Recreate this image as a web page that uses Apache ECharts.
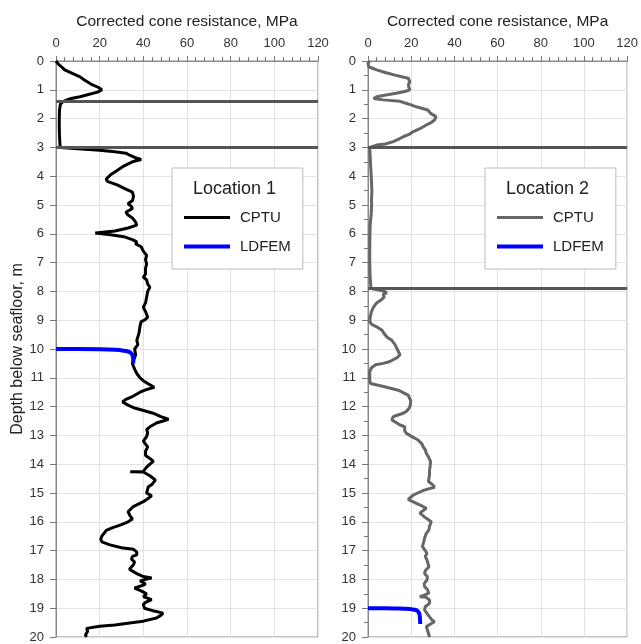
<!DOCTYPE html>
<html>
<head>
<meta charset="utf-8">
<script src="https://cdn.jsdelivr.net/npm/echarts@6/dist/echarts.min.js"></script>
<style>
  html, body { margin: 0; padding: 0; background: #fff; }
  #chart { width: 641px; height: 644px; }
</style>
</head>
<body>
<div id="chart"></div>
<script>
// x-axis ticks (MPa) and depth ticks (m)
const qtTicks = [0, 20, 40, 60, 80, 100, 120]
const depthTicks = [0, 20]

// Location 1 - CPTU profile
const loc1Depth = [0, 0.1, 0.2, 0.31, 0.45, 0.55, 0.66, 0.8, 0.92, 1.0, 1.08, 1.18, 1.24, 1.3, 1.35, 1.42, 1.5, 1.7, 2.0, 2.3, 2.6, 2.9, 3.0,
  3.05, 3.1, 3.15, 3.2, 3.28, 3.35, 3.42, 3.5, 3.65, 3.8, 3.95, 4.1, 4.18, 4.3, 4.45, 4.55, 4.7, 4.85, 4.95, 5.05, 5.12, 5.25, 5.35, 5.45, 5.6, 5.7, 5.8, 5.9, 5.97, 6.0,
  6.03, 6.1, 6.2, 6.28, 6.35, 6.45, 6.6, 6.75, 6.9, 7.05, 7.2, 7.4, 7.5, 7.6, 7.75, 7.85, 8.0, 8.2, 8.4, 8.55, 8.7, 8.9, 9.0, 9.05, 9.2, 9.45, 9.7, 9.85,
  10.0, 10.2, 10.5, 10.7, 10.85, 11.0, 11.1, 11.2, 11.33, 11.42, 11.5, 11.65, 11.75, 11.84, 11.95, 12.05, 12.23, 12.35, 12.44, 12.5, 12.57, 12.7, 12.8, 12.9,
  13.04, 13.2, 13.3, 13.4, 13.55, 13.7, 13.8, 13.9, 14.0, 14.1, 14.25, 14.26, 14.27, 14.4, 14.55, 14.6, 14.7, 14.78, 15.0, 15.1, 15.2, 15.3, 15.47, 15.65, 15.8, 15.9,
  16.0, 16.1, 16.2, 16.3, 16.4, 16.5, 16.6, 16.7, 16.8, 16.9, 16.95, 17.05, 17.15, 17.2, 17.3, 17.4, 17.5, 17.65, 17.8, 17.9, 17.95, 18.0, 18.05, 18.15, 18.2, 18.3,
  18.4, 18.5, 18.6, 18.7, 18.8, 18.87, 19.0, 19.1, 19.17, 19.25, 19.34, 19.45, 19.5, 19.58, 19.63, 19.7, 19.8, 19.86, 19.93, 20.0]
const loc1Qt = [0, 1, 2.5, 4, 8, 11, 13, 16, 19.5, 21, 19, 14, 11, 7, 5, 3, 2, 1.6, 1.5, 1.5, 1.6, 1.8, 2,
  10, 20, 27, 32, 34, 36, 39, 35, 31, 28, 25, 23, 23.5, 28, 32, 35, 35.5, 35, 33, 34.5, 35, 32, 33, 35, 36.5, 37, 33, 27, 18, 17.5,
  25, 31, 35, 37, 36.5, 39, 40, 41.5, 41, 41.5, 41, 41, 40, 41.5, 42, 43, 42, 41.5, 41, 40, 41, 42, 40.5, 39, 38.5, 38, 37, 37.5,
  36, 36.5, 35, 36, 37, 38.5, 40, 42, 45, 41, 38.5, 35, 32, 30.5, 33, 36, 44.5, 48, 51.5, 49, 46, 43, 41.5, 42,
  41.5, 40, 41, 42, 41, 41, 43, 44.6, 43, 41.5, 40, 34, 40, 43, 45.5, 46, 44, 42.3, 41.5, 43.8, 42, 40, 35.4, 33, 34, 35,
  33, 30, 26, 23, 22, 21, 20.5, 21, 24.7, 30, 35.4, 37, 37, 35, 34.6, 36, 35.4, 33.6, 37, 40, 43.8, 41, 38.5, 41, 40, 36,
  39, 41.5, 40, 43.8, 41, 40, 40.5, 45, 49, 48, 46, 40, 35.4, 27, 20, 14, 14.5, 14.8, 13.5, 14]

// Location 1 - LDFEM prediction
const loc1FemDepth = [10.0, 10.0, 10.01, 10.03, 10.06, 10.1, 10.18, 10.3, 10.5]
const loc1FemQt = [0, 10, 20, 27, 31, 33.5, 34.8, 35.3, 35.4]

// Location 2 - CPTU profile
const loc2Depth = [0, 0.08, 0.2, 0.31, 0.4, 0.49, 0.6, 0.72, 0.8, 0.89, 1.0, 1.06, 1.12, 1.2, 1.24, 1.3, 1.35, 1.4, 1.5, 1.59, 1.7, 1.82, 1.93, 2.05, 2.15, 2.22,
  2.35, 2.45, 2.55, 2.63, 2.72, 2.8, 2.88, 2.92, 3.0, 3.3, 3.6, 4.0, 4.5, 4.85, 4.9, 4.95, 5.3, 5.7, 6.0, 6.5, 7.0, 7.5, 7.9,
  7.95, 8.0, 8.05, 8.1, 8.2, 8.3, 8.4, 8.55, 8.7, 8.9, 9.05, 9.15, 9.25, 9.35, 9.5, 9.6, 9.7, 9.85, 10.0, 10.2, 10.3, 10.4, 10.45, 10.5, 10.55, 10.67, 10.8,
  10.96, 11.1, 11.2, 11.3, 11.43, 11.6, 11.8, 11.95, 12.06, 12.15, 12.23, 12.3, 12.35, 12.46, 12.55, 12.64, 12.7, 12.75, 12.85, 12.93, 13.05, 13.16, 13.3, 13.39,
  13.5, 13.62, 13.75, 13.91, 14.05, 14.2, 14.35, 14.5, 14.6, 14.72, 14.8, 14.9, 15.0, 15.07, 15.22, 15.36, 15.45, 15.53, 15.7, 15.88, 16.0, 16.15, 16.28, 16.4,
  16.57, 16.7, 16.86, 17.0, 17.1, 17.2, 17.33, 17.45, 17.56, 17.7, 17.8, 17.9, 18.02, 18.15, 18.25, 18.35, 18.48, 18.55, 18.6, 18.62, 18.72, 18.83, 18.95,
  19.06, 19.15, 19.3, 19.4, 19.47, 19.55, 19.64, 19.75, 19.87, 20.0]
const loc2Qt = [0.8, 0, 0.3, 4, 8, 12.5, 18.6, 19.4, 18.8, 18.8, 19.4, 17, 13, 7, 4, 2.6, 7, 14.8, 19, 22.4, 27.7, 29, 31.5, 30.8, 29, 27,
  24, 21, 19, 16.3, 14, 11.7, 8, 4, 0.8, 1.0, 1.2, 1.5, 1.8, 1.6, 2.3, 1.7, 1.5, 1.0, 0.9, 0.8, 0.8, 1.0, 1.4,
  5, 7.5, 8.7, 7, 7.5, 6, 4, 2.5, 1.6, 1.0, 0.8, 1.8, 4.5, 6.5, 7.8, 9, 11, 12.5, 13.5, 14.8, 13.5, 11, 9.5, 7, 3.4, 1.4, 0.8,
  0.8, 0.8, 1.2, 7.2, 14, 18.6, 19.8, 19.6, 19, 18, 16.3, 13.5, 11.7, 11, 13, 14.8, 17, 17.5, 17, 17.8, 20.5, 23.2, 25, 25.5,
  26.5, 27, 28, 29, 28.8, 28.5, 28.5, 28.2, 28, 30, 30.8, 26, 23, 21, 18.6, 22.4, 25, 27, 24, 27, 29.3, 28.5, 28.2, 27,
  26.2, 25.8, 25.2, 26.5, 27.3, 26.5, 27.3, 27.8, 28.2, 26.5, 26.2, 27.5, 27.3, 26, 26.2, 27.5, 28.2, 26, 24, 27, 28.5, 28.5, 26.5,
  26.2, 27, 28.5, 29.5, 30.8, 29, 27, 27.5, 28, 28.5]

// Location 2 - LDFEM prediction
const loc2FemDepth = [19.0, 19.0, 19.01, 19.02, 19.04, 19.08, 19.18, 19.3, 19.55]
const loc2FemQt = [0, 8, 14, 17.8, 20.5, 22.7, 23.7, 24, 24.2]

// layer boundaries (m)
const loc1Layers = [1.4, 3.0]
const loc2Layers = [3.0, 7.9]

const chart = echarts.init(document.getElementById('chart'))

const pairs = (qt, depth) => qt.map((v, i) => [v, depth[i]])
const font = 'Liberation Sans, Arial, sans-serif'

function xAxisFor(gridIndex) {
  return {
    type: 'value', gridIndex: gridIndex, position: 'top',
    min: qtTicks[0], max: qtTicks[qtTicks.length - 1], interval: 20,
    name: 'Corrected cone resistance, MPa', nameLocation: 'middle', nameGap: 31,
    nameTextStyle: { fontSize: 15.5, color: '#222', fontFamily: font },
    axisLine: { show: true, lineStyle: { color: '#888', width: 1 } },
    axisTick: { show: true, inside: false, length: 5, lineStyle: { color: '#777' } },
    minorTick: { show: true, splitNumber: 5, length: 4, lineStyle: { color: '#777' } },
    axisLabel: { fontSize: 13, color: '#333', fontFamily: font, margin: 11 },
    splitLine: { show: true, lineStyle: { color: '#e2e2e2', width: 1 } }
  }
}

function yAxisFor(gridIndex, withName, withMinor) {
  return {
    type: 'value', gridIndex: gridIndex, inverse: true,
    min: depthTicks[0], max: depthTicks[1], interval: 1,
    name: withName ? 'Depth below seafloor, m' : '', nameLocation: 'middle', nameGap: 30,
    nameTextStyle: { fontSize: 16, color: '#222', fontFamily: font },
    axisLine: { show: true, lineStyle: { color: '#888', width: 1 } },
    axisTick: { show: true, inside: false, length: 6, lineStyle: { color: '#777' } },
    minorTick: { show: withMinor, splitNumber: 2, length: 4, lineStyle: { color: '#777' } },
    axisLabel: { fontSize: 13, color: '#333', fontFamily: font, margin: 12 },
    splitLine: { show: true, lineStyle: { color: '#e2e2e2', width: 1 } }
  }
}

function layerLines(values) {
  return {
    silent: true, symbol: 'none', label: { show: false },
    lineStyle: { color: '#555', width: 3, type: 'solid' },
    data: values.map(v => ({ yAxis: v }))
  }
}

function legendFor(left, cptuColor) {
  return {
    left: left, top: 168, orient: 'vertical', selectedMode: false,
    padding: [42, 12, 15, 10], itemGap: 14, itemWidth: 46, itemHeight: 14,
    backgroundColor: '#fff', borderColor: '#bbb', borderWidth: 1,
    textStyle: { fontSize: 15, color: '#222', fontFamily: font, padding: [0, 0, 0, 5] },
    data: [
      { name: 'CPTU', lineStyle: { width: 3, color: cptuColor }, itemStyle: { opacity: 0 } },
      { name: 'LDFEM', lineStyle: { width: 4, color: '#0000ff' }, itemStyle: { opacity: 0 } }
    ]
  }
}

const option = {
  animation: false,
  backgroundColor: '#fff',
  grid: [
    { left: 56, top: 61, width: 262, height: 576, show: true, borderColor: '#888', borderWidth: 1 },
    { left: 368, top: 61, width: 262, height: 576, show: true, borderColor: '#888', borderWidth: 1 }
  ],
  title: [
    { text: 'Location 1', left: 193, top: 180, padding: 0, textStyle: { fontSize: 18, fontWeight: 'normal', color: '#222', fontFamily: font } },
    { text: 'Location 2', left: 506, top: 180, padding: 0, textStyle: { fontSize: 18, fontWeight: 'normal', color: '#222', fontFamily: font } }
  ],
  legend: [legendFor(172, '#000'), legendFor(485, '#666')],
  xAxis: [xAxisFor(0), xAxisFor(1)],
  yAxis: [yAxisFor(0, true, false), yAxisFor(1, false, true)],
  series: [
    {
      name: 'CPTU', type: 'line', xAxisIndex: 0, yAxisIndex: 0, symbol: 'none',
      lineStyle: { color: '#000', width: 3 }, itemStyle: { color: '#000' },
      data: pairs(loc1Qt, loc1Depth), markLine: layerLines(loc1Layers)
    },
    {
      name: 'LDFEM', type: 'line', xAxisIndex: 0, yAxisIndex: 0, symbol: 'none', smooth: 0.3,
      lineStyle: { color: '#0000ff', width: 4 }, itemStyle: { color: '#0000ff' },
      data: pairs(loc1FemQt, loc1FemDepth), z: 3
    },
    {
      name: 'CPTU', type: 'line', xAxisIndex: 1, yAxisIndex: 1, symbol: 'none',
      lineStyle: { color: '#666', width: 3 }, itemStyle: { color: '#666' },
      data: pairs(loc2Qt, loc2Depth), markLine: layerLines(loc2Layers)
    },
    {
      name: 'LDFEM', type: 'line', xAxisIndex: 1, yAxisIndex: 1, symbol: 'none', smooth: 0.3,
      lineStyle: { color: '#0000ff', width: 4 }, itemStyle: { color: '#0000ff' },
      data: pairs(loc2FemQt, loc2FemDepth), z: 3
    }
  ]
}

chart.setOption(option)
</script>
</body>
</html>
